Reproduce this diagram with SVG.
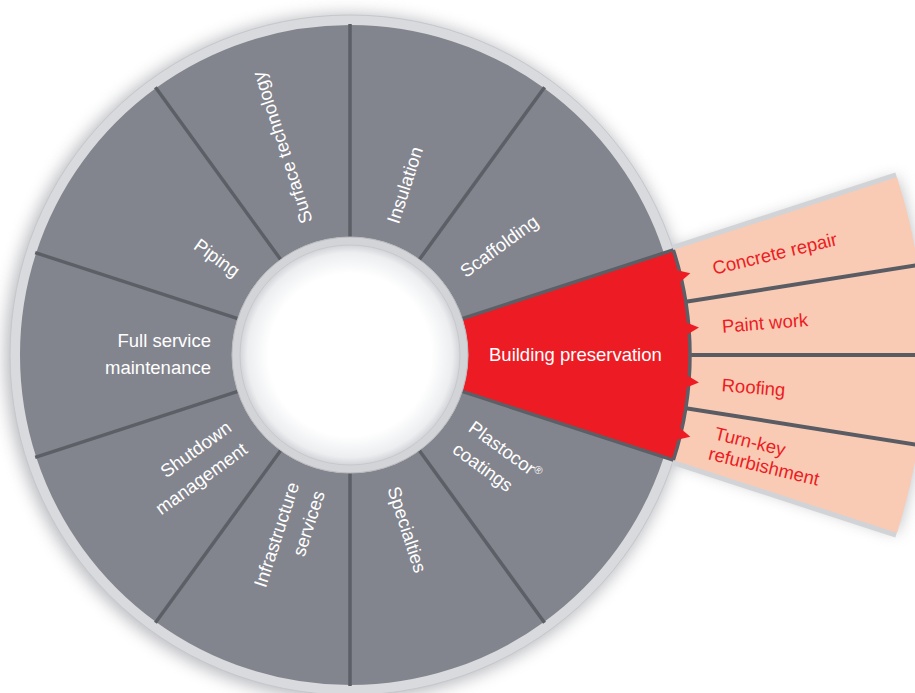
<svg xmlns="http://www.w3.org/2000/svg" width="915" height="693" viewBox="0 0 915 693">
<defs>
<filter id="shadow" x="-20%" y="-20%" width="140%" height="140%"><feGaussianBlur stdDeviation="8"/></filter>
<radialGradient id="hole" cx="0.5" cy="0.5" r="0.5">
<stop offset="0" stop-color="#ffffff"/>
<stop offset="0.74" stop-color="#ffffff"/>
<stop offset="0.93" stop-color="#eceef0"/>
<stop offset="1" stop-color="#d2d4d8"/>
</radialGradient>
<style>
.seg{fill:#83858e}
.red{fill:#ed1c24}
.sub{fill:#f9cbb4}
.lbl{font-family:"Liberation Sans",Arial,sans-serif;font-size:18.5px;fill:#ffffff}
.sublbl{font-family:"Liberation Sans",Arial,sans-serif;font-size:18.5px;fill:#ed1c24}
.end{text-anchor:end}
.div{stroke:#5d5f67;stroke-width:3.5;fill:none}
.pdiv{stroke:#5a5c64;stroke-width:4;fill:none}
.edge{stroke:#d2d3d6;stroke-width:10;fill:none}
.arrow{fill:#ed1c24}
</style>
</defs>
<rect width="915" height="693" fill="#ffffff"/>

<g id="shadow-layer" filter="url(#shadow)" fill="#8e9097" opacity="0.6">
<circle cx="348" cy="357" r="343"/>
<path d="M 673.36 249.93 L 896.86 177.32 A 575 575 0 0 1 896.86 532.68 L 673.36 460.07 Z"/>
</g>

<g id="ring-border">
<circle cx="350" cy="355" r="340" fill="#d9dadd" stroke="#c6c7cb" stroke-width="1"/>
<line class="edge" x1="673.36" y1="249.93" x2="896.86" y2="177.32"/>
<line class="edge" x1="673.36" y1="460.07" x2="896.86" y2="532.68"/>
</g>

<g id="surface-technology">
<path class="seg" d="M 156.03 88.02 A 330 330 0 0 1 350 25 L 350 237 A 118 118 0 0 0 280.64 259.54 Z"/>
<text class="lbl" transform="translate(350 355) rotate(-108)" x="139" y="6">Surface technology</text>
</g>
<g id="insulation">
<path class="seg" d="M 350 25 A 330 330 0 0 1 543.97 88.02 L 419.36 259.54 A 118 118 0 0 0 350 237 Z"/>
<text class="lbl" transform="translate(350 355) rotate(-72)" x="139" y="6">Insulation</text>
</g>
<g id="scaffolding">
<path class="seg" d="M 543.97 88.02 A 330 330 0 0 1 663.85 253.02 L 462.22 318.54 A 118 118 0 0 0 419.36 259.54 Z"/>
<text class="lbl" transform="translate(350 355) rotate(-36)" x="139" y="6">Scaffolding</text>
</g>
<g id="building-preservation">
<path class="red" d="M 673.36 249.93 A 340 340 0 0 1 673.36 460.07 L 462.22 391.46 A 118 118 0 0 0 462.22 318.54 Z"/>
<text class="lbl" transform="translate(350 355)" x="139" y="6">Building preservation</text>
</g>
<g id="plastocor-coatings">
<path class="seg" d="M 663.85 456.98 A 330 330 0 0 1 543.97 621.98 L 419.36 450.46 A 118 118 0 0 0 462.22 391.46 Z"/>
<text class="lbl" transform="translate(350 355) rotate(36)"><tspan x="139" y="-8">Plastocor<tspan font-size="11" dy="-6">®</tspan></tspan><tspan x="139" y="19">coatings</tspan></text>
</g>
<g id="specialties">
<path class="seg" d="M 543.97 621.98 A 330 330 0 0 1 350 685 L 350 473 A 118 118 0 0 0 419.36 450.46 Z"/>
<text class="lbl" transform="translate(350 355) rotate(72)" x="139" y="6">Specialties</text>
</g>
<g id="infrastructure-services">
<path class="seg" d="M 350 685 A 330 330 0 0 1 156.03 621.98 L 280.64 450.46 A 118 118 0 0 0 350 473 Z"/>
<text class="lbl end" transform="translate(350 355) rotate(-72)"><tspan x="-139" y="-8">Infrastructure</tspan><tspan x="-139" y="19">services</tspan></text>
</g>
<g id="shutdown-management">
<path class="seg" d="M 156.03 621.98 A 330 330 0 0 1 36.15 456.98 L 237.78 391.46 A 118 118 0 0 0 280.64 450.46 Z"/>
<text class="lbl end" transform="translate(350 355) rotate(-36)"><tspan x="-139" y="-8">Shutdown</tspan><tspan x="-139" y="19">management</tspan></text>
</g>
<g id="full-service-maintenance">
<path class="seg" d="M 36.15 456.98 A 330 330 0 0 1 36.15 253.02 L 237.78 318.54 A 118 118 0 0 0 237.78 391.46 Z"/>
<text class="lbl end" transform="translate(350 355)"><tspan x="-139" y="-8">Full service</tspan><tspan x="-139" y="19">maintenance</tspan></text>
</g>
<g id="piping">
<path class="seg" d="M 36.15 253.02 A 330 330 0 0 1 156.03 88.02 L 280.64 259.54 A 118 118 0 0 0 237.78 318.54 Z"/>
<text class="lbl end" transform="translate(350 355) rotate(36)" x="-139" y="6">Piping</text>
</g>

<g id="concrete-repair">
<path class="sub" d="M 673.36 249.93 L 896.86 177.32 A 575 575 0 0 1 917.92 265.05 L 685.81 301.81 A 340 340 0 0 0 673.36 249.93 Z"/>
<text class="sublbl" transform="translate(350 355) rotate(-13.5)" x="373" y="7">Concrete repair</text>
</g>
<g id="paint-work">
<path class="sub" d="M 685.81 301.81 L 917.92 265.05 A 575 575 0 0 1 925 355 L 690 355 A 340 340 0 0 0 685.81 301.81 Z"/>
<text class="sublbl" transform="translate(350 355) rotate(-4.5)" x="373" y="7">Paint work</text>
</g>
<g id="roofing">
<path class="sub" d="M 690 355 L 925 355 A 575 575 0 0 1 917.92 444.95 L 685.81 408.19 A 340 340 0 0 0 690 355 Z"/>
<text class="sublbl" transform="translate(350 355) rotate(4.5)" x="373" y="7">Roofing</text>
</g>
<g id="turn-key-refurbishment">
<path class="sub" d="M 685.81 408.19 L 917.92 444.95 A 575 575 0 0 1 896.86 532.68 L 673.36 460.07 A 340 340 0 0 0 685.81 408.19 Z"/>
<text class="sublbl" transform="translate(350 355) rotate(13.5)"><tspan x="373" y="-3">Turn-key</tspan><tspan x="372" y="18">refurbishment</tspan></text>
</g>

<g id="dividers">
<line class="div" x1="350" y1="237" x2="350" y2="24"/>
<line class="div" x1="419.36" y1="259.54" x2="544.56" y2="87.21"/>
<line class="div" x1="462.22" y1="318.54" x2="673.36" y2="249.93"/>
<line class="div" x1="462.22" y1="391.46" x2="673.36" y2="460.07"/>
<line class="div" x1="419.36" y1="450.46" x2="544.56" y2="622.79"/>
<line class="div" x1="350" y1="473" x2="350" y2="686"/>
<line class="div" x1="280.64" y1="450.46" x2="155.44" y2="622.79"/>
<line class="div" x1="237.78" y1="391.46" x2="35.20" y2="457.29"/>
<line class="div" x1="237.78" y1="318.54" x2="35.20" y2="252.71"/>
<line class="div" x1="280.64" y1="259.54" x2="155.44" y2="87.21"/>
<line class="pdiv" x1="685.81" y1="301.81" x2="917.92" y2="265.05"/>
<line class="pdiv" x1="690" y1="355" x2="925" y2="355"/>
<line class="pdiv" x1="685.81" y1="408.19" x2="917.92" y2="444.95"/>
</g>

<g id="hole">
<circle cx="350" cy="355" r="118" fill="#d3d4d7" stroke="#b9babe" stroke-width="1"/>
<circle cx="350" cy="355" r="110" fill="url(#hole)" stroke="#c4c5c9" stroke-width="0.8"/>
</g>

<g id="connectors">
<path d="M 673.36 249.93 A 340 340 0 0 1 673.36 460.07" fill="none" stroke="#5d5f67" stroke-width="3.5"/>
<polygon class="arrow" points="677.26,270.26 690.33,273.29 680.06,281.92"/>
<polygon class="arrow" points="686.49,322.50 698.92,327.54 687.43,334.46"/>
<polygon class="arrow" points="687.43,375.54 698.92,382.46 686.49,387.50"/>
<polygon class="arrow" points="680.06,428.08 690.33,436.71 677.26,439.74"/>
</g>
</svg>
